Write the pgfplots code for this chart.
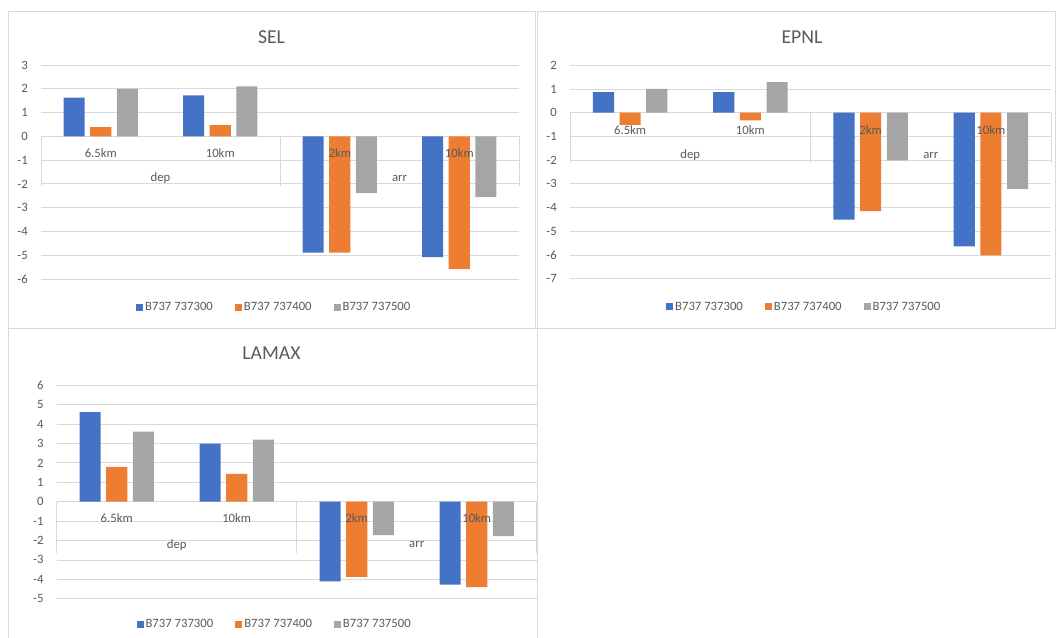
\documentclass[border=0pt]{standalone}
\usepackage{pgfplots}
\pgfplotsset{compat=1.18}
\usepackage{fontspec}
\setmainfont{Carlito}
\definecolor{cblue}{HTML}{4472C4}
\definecolor{corange}{HTML}{ED7D31}
\definecolor{cgray}{HTML}{A5A5A5}
\definecolor{txt}{HTML}{595959}
\definecolor{gridc}{HTML}{D9D9D9}
\newcommand{\smallf}{\fontsize{12.7}{15}\selectfont}
\newcommand{\titlef}{\fontsize{19.7}{23}\selectfont}
\pgfplotsset{
  excel/.style={
    scale only axis,
    clip=false,
    ybar,
    bar width=0.176,
    xmin=-0.5, xmax=3.5,
    xtick=\empty,
    ytick distance=1,
    ymajorgrids,
    grid style={gridc, line width=0.8pt},
    axis line style={draw=none},
    major tick length=0pt,
    /pgf/number format/assume math mode=true,
    yticklabel style={font=\smallf, text=txt, inner sep=0pt, xshift=-13pt},
    legend columns=3,
    legend cell align=left,
    legend style={draw=none, fill=none, font=\smallf, text=txt, anchor=center,
      /tikz/every even column/.append style={column sep=20pt}},
    legend image code/.code={\fill[##1] (0pt,-3.5pt) rectangle (7pt,3.5pt);},
  },
}
\begin{document}
\begin{tikzpicture}[x=1pt,y=1pt]
\useasboundingbox (0,0) rectangle (1056,637);
% chart area borders
\draw[gridc, line width=1pt] (8,625) rectangle (535,308);
\draw[gridc, line width=1pt] (537,625) rectangle (1055.5,308);
\draw[gridc, line width=1pt] (8,308) rectangle (537,-5);
% titles
\node[font=\titlef, text=txt] at (271.5,600) {SEL};
\node[font=\titlef, text=txt] at (802,600) {EPNL};
\node[font=\titlef, text=txt] at (271.5,284) {LAMAX};

% ---------------- SEL ----------------
\begin{axis}[excel, at={(41pt,358pt)}, anchor=south west,
  width=478pt, height=214pt, ymin=-6, ymax=3,
  legend style={at={(0.488,-0.131)}}]
\draw[gridc, line width=0.8pt] (axis cs:-0.5,0) -- (axis cs:3.5,0);
\addplot[fill=cblue, draw=none, bar shift=-0.222] coordinates {(0,1.63) (1,1.72) (2,-4.89) (3,-5.08)};
\addplot[fill=corange, draw=none, bar shift=0] coordinates {(0,0.39) (1,0.47) (2,-4.89) (3,-5.59)};
\addplot[fill=cgray, draw=none, bar shift=0.222] coordinates {(0,2.0) (1,2.1) (2,-2.39) (3,-2.56)};
\legend{B737 737300, B737 737400, B737 737500}
\draw[gridc, line width=0.8pt] (axis cs:-0.5,0) -- ++(0pt,-50pt);
\draw[gridc, line width=0.8pt] (axis cs:1.5,0) -- ++(0pt,-50pt);
\draw[gridc, line width=0.8pt] (axis cs:3.5,0) -- ++(0pt,-50pt);
\node[font=\smallf, text=txt, yshift=-16.7pt] at (axis cs:0,0) {6.5km};
\node[font=\smallf, text=txt, yshift=-16.7pt] at (axis cs:1,0) {10km};
\node[font=\smallf, text=txt, yshift=-16.7pt] at (axis cs:2,0) {2km};
\node[font=\smallf, text=txt, yshift=-16.7pt] at (axis cs:3,0) {10km};
\node[font=\smallf, text=txt, yshift=-42pt] at (axis cs:0.5,0) {dep};
\node[font=\smallf, text=txt, yshift=-42pt] at (axis cs:2.5,0) {arr};
\end{axis}

% ---------------- EPNL ----------------
\begin{axis}[excel, at={(570pt,358.3pt)}, anchor=south west,
  width=481pt, height=213.4pt, ymin=-7, ymax=2,
  legend style={at={(0.487,-0.131)}}]
\draw[gridc, line width=0.8pt] (axis cs:-0.5,0) -- (axis cs:3.5,0);
\addplot[fill=cblue, draw=none, bar shift=-0.222] coordinates {(0,0.87) (1,0.87) (2,-4.51) (3,-5.64)};
\addplot[fill=corange, draw=none, bar shift=0] coordinates {(0,-0.51) (1,-0.32) (2,-4.15) (3,-6.02)};
\addplot[fill=cgray, draw=none, bar shift=0.222] coordinates {(0,1.01) (1,1.29) (2,-2.01) (3,-3.21)};
\legend{B737 737300, B737 737400, B737 737500}
\draw[gridc, line width=0.8pt] (axis cs:-0.5,0) -- ++(0pt,-50.7pt);
\draw[gridc, line width=0.8pt] (axis cs:1.5,0) -- ++(0pt,-50.7pt);
\draw[gridc, line width=0.8pt] (axis cs:3.5,0) -- ++(0pt,-50.7pt);
\node[font=\smallf, text=txt, yshift=-17.7pt] at (axis cs:0,0) {6.5km};
\node[font=\smallf, text=txt, yshift=-17.7pt] at (axis cs:1,0) {10km};
\node[font=\smallf, text=txt, yshift=-17.7pt] at (axis cs:2,0) {2km};
\node[font=\smallf, text=txt, yshift=-17.7pt] at (axis cs:3,0) {10km};
\node[font=\smallf, text=txt, yshift=-42.7pt] at (axis cs:0.5,0) {dep};
\node[font=\smallf, text=txt, yshift=-42.7pt] at (axis cs:2.5,0) {arr};
\end{axis}

% ---------------- LAMAX ----------------
\begin{axis}[excel, at={(56.7pt,38.3pt)}, anchor=south west,
  width=480pt, height=213.4pt, ymin=-5, ymax=6,
  legend style={at={(0.454,-0.119)}}]
\draw[gridc, line width=0.8pt] (axis cs:-0.5,0) -- (axis cs:3.5,0);
\addplot[fill=cblue, draw=none, bar shift=-0.222] coordinates {(0,4.62) (1,2.99) (2,-4.11) (3,-4.28)};
\addplot[fill=corange, draw=none, bar shift=0] coordinates {(0,1.79) (1,1.44) (2,-3.88) (3,-4.40)};
\addplot[fill=cgray, draw=none, bar shift=0.222] coordinates {(0,3.61) (1,3.20) (2,-1.72) (3,-1.77)};
\legend{B737 737300, B737 737400, B737 737500}
\draw[gridc, line width=0.8pt] (axis cs:-0.5,0) -- ++(0pt,-51.7pt);
\draw[gridc, line width=0.8pt] (axis cs:1.5,0) -- ++(0pt,-51.7pt);
\draw[gridc, line width=0.8pt] (axis cs:3.5,0) -- ++(0pt,-51.7pt);
\node[font=\smallf, text=txt, yshift=-16.3pt] at (axis cs:0,0) {6.5km};
\node[font=\smallf, text=txt, yshift=-16.3pt] at (axis cs:1,0) {10km};
\node[font=\smallf, text=txt, yshift=-16.3pt] at (axis cs:2,0) {2km};
\node[font=\smallf, text=txt, yshift=-16.3pt] at (axis cs:3,0) {10km};
\node[font=\smallf, text=txt, yshift=-43pt] at (axis cs:0.5,0) {dep};
\node[font=\smallf, text=txt, yshift=-43pt] at (axis cs:2.5,0) {arr};
\end{axis}
\end{tikzpicture}
\end{document}
